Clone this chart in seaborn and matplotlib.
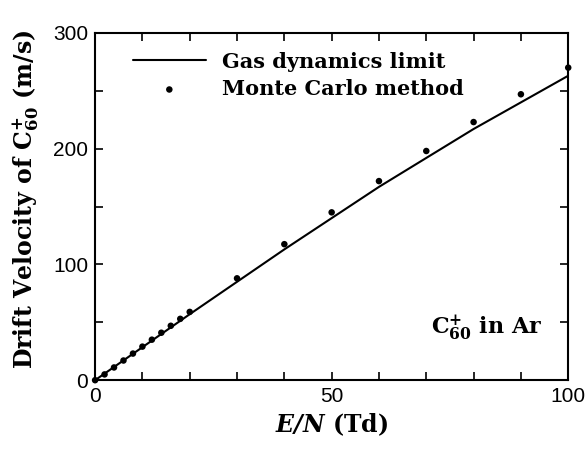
import matplotlib
matplotlib.use("Agg")
import matplotlib.pyplot as plt
from matplotlib.ticker import MultipleLocator
import seaborn as sns
import pandas as pd

# Gas dynamics limit curve
gd_en = [0, 10, 20, 30, 40, 50, 60, 70, 80, 90, 100]
gd_v = [0, 28.5, 57, 85, 113, 140, 167, 192, 217, 240, 263]

# Monte Carlo points
mc_en = [0, 2, 4, 6, 8, 10, 12, 14, 16, 18, 20, 30, 40, 50, 60, 70, 80, 90, 100]
mc_v = [0, 5, 11, 17, 23, 29, 35, 41, 47, 53, 59, 88, 117.5, 145, 172, 198, 223, 247, 270]

sns.set_style("ticks")
plt.rcParams['font.family'] = ['Liberation Sans', 'DejaVu Sans']
plt.rcParams['mathtext.fontset'] = 'dejavuserif'
plt.rcParams['text.color'] = 'black'
plt.rcParams['axes.labelcolor'] = 'black'
plt.rcParams['xtick.color'] = 'black'
plt.rcParams['ytick.color'] = 'black'
plt.rcParams['axes.edgecolor'] = 'black'

gd = pd.DataFrame({"en": gd_en, "v": gd_v})
mc = pd.DataFrame({"en": mc_en, "v": mc_v})

fig = plt.figure(figsize=(5.87, 4.51), dpi=100)
ax = fig.add_axes([0.162, 0.157, 0.806, 0.770])

sns.lineplot(data=gd, x="en", y="v", ax=ax, color="black", linewidth=1.5,
             label="Gas dynamics limit")
sns.scatterplot(data=mc, x="en", y="v", ax=ax, color="black", s=22,
                edgecolor="none", label="Monte Carlo method", zorder=3,
                clip_on=False)

ax.set_xlim(0, 100)
ax.set_ylim(0, 300)
ax.xaxis.set_major_locator(MultipleLocator(50))
ax.xaxis.set_minor_locator(MultipleLocator(10))
ax.yaxis.set_major_locator(MultipleLocator(100))
ax.yaxis.set_minor_locator(MultipleLocator(50))
ax.tick_params(which="both", direction="in", top=True, right=True,
               length=6, width=1.2, labelsize=15, pad=5)
for sp in ax.spines.values():
    sp.set_linewidth(1.5)

serif = ['DejaVu Serif']
ax.set_xlabel(r"$\mathbfit{E/N}$ (Td)", fontsize=17, fontweight="bold",
              family=serif)
ax.set_ylabel(r"Drift Velocity of C$_{\mathbf{60}}^{\mathbf{+}}$ (m/s)",
              fontsize=17, fontweight="bold", family=serif)
ax.yaxis.set_label_coords(-0.115, 0.52)

ax.text(0.945, 0.15, r"C$_{\mathbf{60}}^{\mathbf{+}}$ in Ar", transform=ax.transAxes,
        ha="right", va="center", fontsize=16, fontweight="bold", family=serif)

leg = ax.legend(loc="upper center", bbox_to_anchor=(0.43, 1.0), frameon=False,
                prop={"family": serif, "weight": "bold", "size": 15},
                handlelength=3.5, labelspacing=0.35, handletextpad=0.8)

fig.savefig("out.png", dpi=100)
